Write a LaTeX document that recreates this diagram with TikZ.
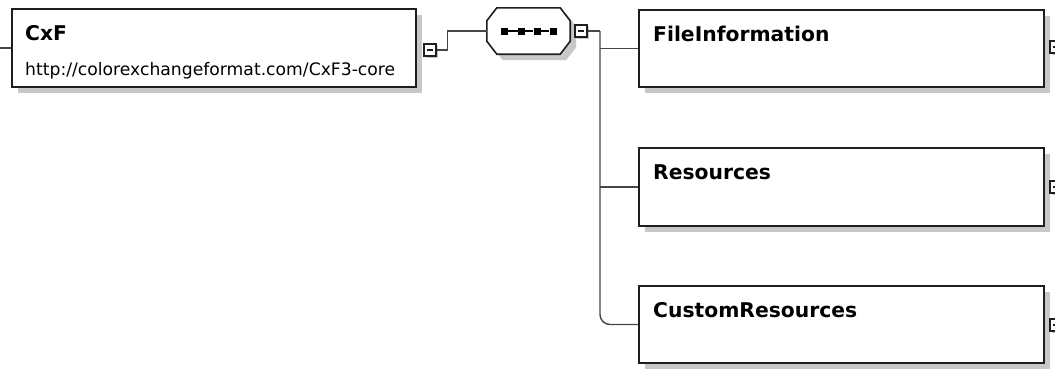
\documentclass[tikz,border=0pt]{standalone}
\usepackage{fontspec}
\setmainfont{DejaVu Sans}
\usetikzlibrary{shadows}
\definecolor{shgray}{RGB}{200,200,200}
\definecolor{linegray}{RGB}{70,70,70}
\definecolor{boxline}{RGB}{30,30,30}
\tikzset{
  elem/.style={draw=boxline, line width=1.6pt, fill=white, rectangle, inner sep=0pt,
    general shadow={fill=shgray, shadow xshift=6pt, shadow yshift=-6pt}},
  title/.style={anchor=base west, inner sep=0pt, font=\fontsize{20.3}{24}\selectfont\bfseries},
  ns/.style={anchor=base west, inner sep=0pt, font=\fontsize{17.2}{20}\selectfont},
  conn/.style={draw=linegray, line width=1.4pt},
  minusbox/.style={draw=boxline, line width=1.2pt, fill=white, rectangle, inner sep=0pt,
    minimum size=12pt,
    general shadow={fill=shgray, shadow xshift=2pt, shadow yshift=-2pt},
    path picture={\draw[line width=1.2pt] ([xshift=-3pt]path picture bounding box.center) -- ([xshift=3pt]path picture bounding box.center);}},
  plusbox/.style={minusbox,
    path picture={\draw[line width=1.2pt] ([xshift=-3pt]path picture bounding box.center) -- ([xshift=3pt]path picture bounding box.center)
      ([yshift=-3pt]path picture bounding box.center) -- ([yshift=3pt]path picture bounding box.center);}},
  seqframe/.style={draw=boxline, line width=1.6pt, fill=white,
    general shadow={fill=shgray, shadow xshift=6pt, shadow yshift=-6pt}},
  dot/.style={fill=black, rectangle, minimum size=7pt, inner sep=0pt},
}
\begin{document}
\begin{tikzpicture}[x=1pt,y=-1pt]
\useasboundingbox (0,0) rectangle (1055,370);
\clip (0,0) rectangle (1055,370);
\fill[white] (0,0) rectangle (1055,370);

% elements
\node[elem, minimum width=404pt, minimum height=78pt] (cxf) at (214,48) {};
\node[title] (cxft) at (25,40) {CxF};
\node[ns] (cxfns) at (25,75) {http://colorexchangeformat.com/CxF3-core};
\node[minusbox] (m1) at (430,50) {};

% sequence compositor
\node[rectangle, minimum width=83pt, minimum height=46pt, inner sep=0pt] (oct) at (528.5,31) {};
\path[seqframe] ([xshift=10pt]oct.north west) -- ([xshift=-10pt]oct.north east)
  -- ([yshift=-13pt]oct.north east) -- ([yshift=13pt]oct.south east)
  -- ([xshift=-10pt]oct.south east) -- ([xshift=10pt]oct.south west)
  -- ([yshift=13pt]oct.south west) -- ([yshift=-13pt]oct.north west) -- cycle;
\node[dot] (d1) at (504,31) {};
\node[dot] (d2) at (521.5,31) {};
\node[dot] (d3) at (537,31) {};
\node[dot] (d4) at (553,31) {};
\draw[line width=1.6pt] (d1) -- (d2) -- (d3) -- (d4);
\node[minusbox] (m2) at (581,31) {};

\node[elem, minimum width=405pt, minimum height=77pt] (fi) at (841.5,48.5) {};
\node[title] (fit) at (653,41) {FileInformation};
\node[plusbox] (p1) at (1056,47) {};

\node[elem, minimum width=405pt, minimum height=78pt] (res) at (841.5,187) {};
\node[title] (rest) at (653,179) {Resources};
\node[plusbox] (p2) at (1056,187) {};

\node[elem, minimum width=405pt, minimum height=77pt] (cus) at (841.5,324.5) {};
\node[title] (cust) at (653,317) {CustomResources};
\node[plusbox] (p3) at (1056,325) {};

% connectors
\coordinate (lin) at (0,48);
\coordinate (trunk) at (600,31);
\draw[conn] (lin) -- (cxf.west);
\draw[conn] (m1.east) -- ++(11,0) |- (oct.west);
\draw[conn] (m2.east) -- (trunk);
\draw[conn, rounded corners=10pt] (trunk) |- (cus.west);
\draw[conn] (fi.west -| trunk) -- (fi.west);
\draw[conn] (res.west -| trunk) -- (res.west);
\end{tikzpicture}
\end{document}
